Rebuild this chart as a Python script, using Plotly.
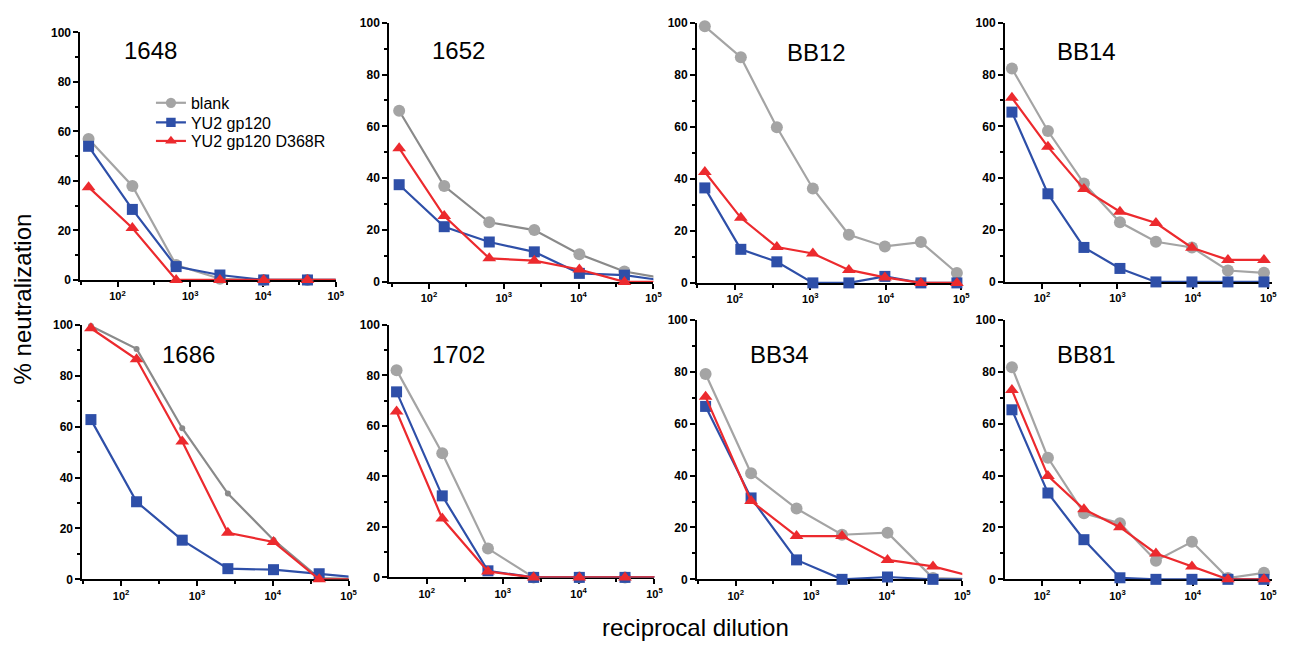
import plotly.graph_objects as go

W, H = 1297, 647

# ---------------- data ----------------
panel_names = ["1648", "1652", "BB12", "BB14", "1686", "1702", "BB34", "BB81"]
series_names = ["blank", "YU2 gp120", "YU2 gp120 D368R"]

dil_4fold = [40, 160, 640, 2560, 10240, 40960, 163840]
dil_3fold = [40, 120, 360, 1080, 3240, 9720, 29160, 87480]

x_tick_vals = [100, 1000, 10000, 100000]
x_tick_text = ["10<sup>2</sup>", "10<sup>3</sup>", "10<sup>4</sup>", "10<sup>5</sup>"]
x_minor_vals = [31.62, 316.2, 3162, 31623]
y_tick_vals = [0, 20, 40, 60, 80, 100]
y_minor_vals = [10, 30, 50, 70, 90]

blank_1648 = [57, 38, 6, 0.5, 0, 0, 0]
yu2_1648 = [54, 28.5, 5.4, 2, 0, 0, 0]
d368r_1648 = [37.5, 21, 0, 0, 0, 0, 0]

blank_1652 = [66, 37, 23, 20, 10.7, 4, 1]
yu2_1652 = [37.5, 21.3, 15.4, 11.6, 3.3, 2.6, 0.2]
d368r_1652 = [51.6, 25.4, 9.1, 8.2, 4.8, 0, 0]

blank_BB12 = [98.6, 86.7, 59.8, 36.3, 18.5, 14, 15.7, 3.8]
yu2_BB12 = [36.5, 12.9, 8.1, 0, 0, 2.5, 0, 0]
d368r_BB12 = [42.6, 25, 13.8, 11.3, 5, 2.1, 0, 0]

blank_BB14 = [82.3, 58.2, 38, 23, 15.5, 13.3, 4.4, 3.5]
yu2_BB14 = [65.5, 34, 13.3, 5.2, 0, 0, 0, 0]
d368r_BB14 = [71, 52.1, 35.8, 27.1, 22.7, 13.2, 8.5, 8.5]

blank_1686 = [99.6, 90.6, 59.4, 33.7, 15.5, 0.5, 0]
yu2_1686 = [62.8, 30.5, 15.4, 4.2, 3.8, 2.2, 0.5]
d368r_1686 = [98.7, 86.5, 54.2, 18.3, 14.7, 0, 0]

blank_1702 = [82.1, 49.2, 11.4, 0, 0, 0, 0]
yu2_1702 = [73.5, 32.3, 2.6, 0, 0, 0, 0]
d368r_1702 = [65.7, 23.3, 2.3, 0, 0, 0, 0]

blank_BB34 = [79.2, 40.9, 27.3, 17.2, 18, 0.5, 0]
yu2_BB34 = [66.7, 31.4, 7.5, 0, 0.9, 0, 0]
d368r_BB34 = [70.4, 30.2, 16.7, 16.7, 7.5, 5, 0.5]

blank_BB81 = [81.8, 46.9, 25.5, 21.6, 7.2, 14.5, 0.5, 2.5]
yu2_BB81 = [65.4, 33.3, 15.3, 0.6, 0, 0, 0, 0]
d368r_BB81 = [73, 39.9, 27, 20.1, 10, 5, 0, 0]

panel_data = [
    (dil_4fold, blank_1648, yu2_1648, d368r_1648),
    (dil_4fold, blank_1652, yu2_1652, d368r_1652),
    (dil_3fold, blank_BB12, yu2_BB12, d368r_BB12),
    (dil_3fold, blank_BB14, yu2_BB14, d368r_BB14),
    (dil_4fold, blank_1686, yu2_1686, d368r_1686),
    (dil_4fold, blank_1702, yu2_1702, d368r_1702),
    (dil_4fold, blank_BB34, yu2_BB34, d368r_BB34),
    (dil_3fold, blank_BB81, yu2_BB81, d368r_BB81),
]

# ---------------- layout / style ----------------
# (x_left_px, x_right_px, y_top_px, y_bottom_px, log_lo, log_hi, title_cx, title_cy)
boxes = [
    (81, 338, 26, 279, 1.49, 5.0, 152, 44),
    (392, 658, 16, 281, 1.47, 5.0, 462, 44),
    (702, 968, 16, 282, 1.50, 5.0, 822, 46),
    (1012, 1281, 16, 281, 1.51, 5.05, 1094, 45),
    (83, 351, 325, 585, 1.49, 5.0, 190, 355),
    (392, 659, 325, 583, 1.506, 5.0, 462, 355),
    (702, 969, 320, 585, 1.49, 5.0, 785, 355),
    (1012, 1281, 320, 585, 1.51, 5.05, 1094, 355),
]

colors = ["#a4a4a4", "#2e4fa8", "#ec2a2e"]
symbols = ["circle", "square", "triangle-up"]
msizes = [12, 11, 12]
legend_ids = ["legend", "legend2", "legend3"]
legend_cy = [98, 118, 137]
FONT = "Liberation Sans, Arial, sans-serif"

fig = go.Figure()

for i, (xs, b, y2, r) in enumerate(panel_data):
    x0, x1, yt, yb, lo, hi, tcx, tcy = boxes[i]
    sfx = "" if i == 0 else str(i + 1)
    for k, ys in enumerate([b, y2, r]):
        col = colors[k]
        lcol = col
        ms = msizes[k]
        if k == 0 and panel_names[i] in ("1652", "1686"):
            lcol = "#8a8a8a"
        if k == 0 and panel_names[i] == "1686":
            ms = 6
            col = "#8a8a8a"
        sizes = [ms if v <= 10 ** hi * 1.01 else 0 for v in xs]
        fig.add_trace(go.Scatter(
            x=xs, y=ys, mode="lines+markers",
            name=series_names[k], legendgroup=series_names[k],
            legend=legend_ids[k],
            showlegend=(i == 0),
            line=dict(color=lcol, width=2.2),
            marker=dict(symbol=symbols[k], size=sizes, color=col, opacity=1, line=dict(width=0)),
            cliponaxis=False,
            xaxis="x" + sfx, yaxis="y" + sfx,
        ))
    fig.update_layout({
        "xaxis" + sfx: dict(
            type="log", range=[lo, hi], domain=[x0 / W, x1 / W], anchor="y" + sfx,
            showline=True, linecolor="black", linewidth=2, mirror=False,
            ticks="outside", ticklen=5, tickwidth=2, tickcolor="black",
            tickvals=x_tick_vals, ticktext=x_tick_text,
            tickfont=dict(family=FONT, size=11, color="black", weight="bold"),
            minor=dict(ticks="outside", tickvals=x_minor_vals, ticklen=3, tickwidth=2, tickcolor="black"),
            showgrid=False, zeroline=False, layer="below traces", fixedrange=True,
        ),
        "yaxis" + sfx: dict(
            range=[0, 100], domain=[1 - yb / H, 1 - yt / H], anchor="x" + sfx,
            showline=True, linecolor="black", linewidth=2,
            ticks="outside", ticklen=5, tickwidth=2, tickcolor="black",
            tickvals=y_tick_vals,
            tickfont=dict(family=FONT, size=12, color="black", weight="bold"),
            minor=dict(ticks="outside", tickvals=y_minor_vals, ticklen=3, tickwidth=2, tickcolor="black"),
            showgrid=False, zeroline=False, layer="below traces", fixedrange=True,
        ),
    })
    fig.add_annotation(text=panel_names[i], x=tcx / W, y=1 - tcy / H, xref="paper", yref="paper",
                       xanchor="center", yanchor="middle", showarrow=False,
                       font=dict(family=FONT, size=24, color="black"))

fig.add_annotation(text="% neutralization", x=23 / W, y=1 - 298 / H, xref="paper", yref="paper",
                   textangle=-90, xanchor="center", yanchor="middle", showarrow=False,
                   font=dict(family=FONT, size=24, color="black"))
fig.add_annotation(text="reciprocal dilution", x=700 / W, y=1 - 634 / H, xref="paper", yref="paper",
                   xanchor="center", yanchor="middle", showarrow=False,
                   font=dict(family=FONT, size=24, color="black"))

legend_style = dict(xanchor="left", yanchor="middle", bgcolor="rgba(0,0,0,0)", borderwidth=0,
                    tracegroupgap=0, itemwidth=30,
                    font=dict(family=FONT, size=16, color="black"))
fig.update_layout(
    width=W, height=H, margin=dict(l=0, r=0, t=0, b=0),
    paper_bgcolor="white", plot_bgcolor="white",
    showlegend=True,
    legend=dict(x=152 / W, y=1 - legend_cy[0] / H, **legend_style),
    legend2=dict(x=152 / W, y=1 - legend_cy[1] / H, **legend_style),
    legend3=dict(x=152 / W, y=1 - legend_cy[2] / H, **legend_style),
)

fig.write_html("out.html", config={"displayModeBar": False},
               post_script="document.body.style.margin='0';document.body.style.overflow='hidden';")
